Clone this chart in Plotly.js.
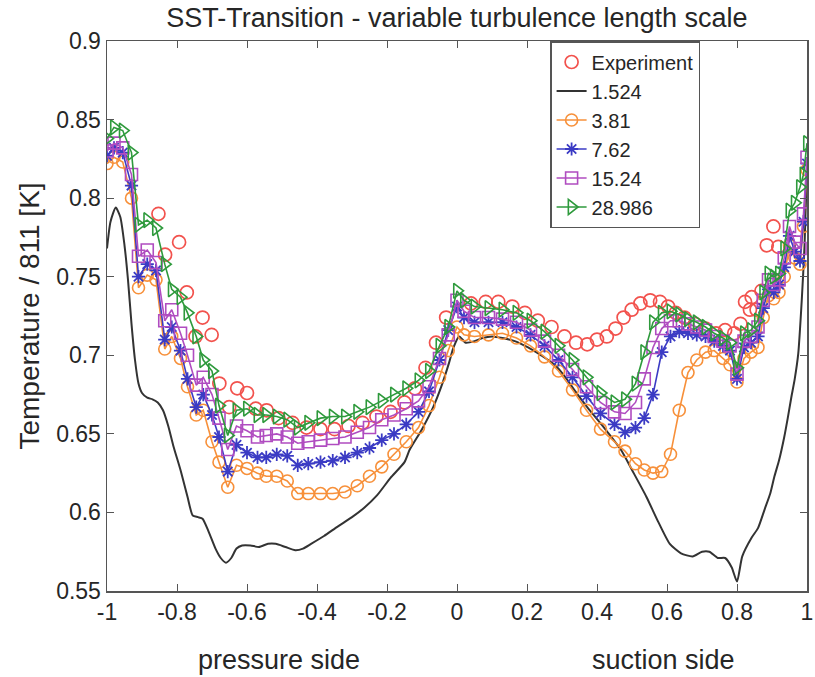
<!DOCTYPE html>
<html>
<head>
<meta charset="utf-8">
<script src="https://cdn.plot.ly/plotly-3.0.1.min.js"></script>
<style>html,body{margin:0;padding:0;background:#fff;}#chart{width:815px;height:677px;}</style>
</head>
<body>
<div id="chart"></div>
<script>
// ---- data ----
const expX = [-0.853,-0.834,-0.794,-0.772,-0.747,-0.727,-0.701,-0.679,-0.651,-0.628,-0.600,-0.575,-0.544,-0.510,-0.47,-0.43,-0.39,-0.35,-0.31,-0.27,-0.23,-0.19,-0.15,-0.12,-0.09,-0.06,-0.031,0.04,0.082,0.118,0.158,0.194,0.231,0.27,0.307,0.34,0.372,0.40,0.428,0.453,0.476,0.499,0.524,0.552,0.580,0.603,0.625,0.65,0.68,0.71,0.74,0.766,0.792,0.81,0.823,0.837,0.842,0.856,0.870,0.885,0.904,0.918];
const expY = [0.790,0.764,0.772,0.740,0.712,0.724,0.713,0.682,0.667,0.679,0.676,0.666,0.665,0.660,0.657,0.654,0.653,0.653,0.655,0.657,0.661,0.664,0.670,0.679,0.692,0.708,0.724,0.733,0.734,0.734,0.731,0.727,0.722,0.718,0.712,0.708,0.707,0.710,0.712,0.717,0.724,0.729,0.733,0.735,0.734,0.731,0.727,0.724,0.720,0.717,0.714,0.716,0.714,0.720,0.734,0.729,0.737,0.729,0.741,0.770,0.782,0.769];

const blackX = [-1.0,-0.99,-0.975,-0.962,-0.95,-0.94,-0.93,-0.92,-0.91,-0.9,-0.885,-0.87,-0.855,-0.84,-0.825,-0.81,-0.79,-0.77,-0.755,-0.74,-0.727,-0.71,-0.69,-0.675,-0.66,-0.645,-0.63,-0.614,-0.59,-0.566,-0.54,-0.518,-0.49,-0.462,-0.44,-0.417,-0.38,-0.341,-0.30,-0.265,-0.228,-0.19,-0.15,-0.135,-0.10,-0.068,-0.045,-0.023,-0.01,0.006,0.025,0.05,0.073,0.10,0.13,0.165,0.203,0.24,0.279,0.31,0.335,0.372,0.42,0.468,0.50,0.541,0.575,0.608,0.64,0.673,0.70,0.721,0.745,0.766,0.785,0.80,0.815,0.842,0.86,0.879,0.895,0.907,0.92,0.935,0.945,0.955,0.965,0.975,0.985,0.993,1.0];
const blackY = [0.768,0.785,0.794,0.788,0.770,0.748,0.720,0.697,0.682,0.676,0.673,0.672,0.670,0.665,0.655,0.642,0.627,0.610,0.598,0.597,0.596,0.588,0.577,0.571,0.568,0.571,0.577,0.579,0.579,0.578,0.580,0.580,0.578,0.576,0.577,0.580,0.585,0.591,0.597,0.603,0.611,0.622,0.632,0.640,0.653,0.667,0.680,0.695,0.705,0.712,0.708,0.709,0.711,0.712,0.711,0.709,0.705,0.700,0.694,0.686,0.678,0.667,0.654,0.640,0.627,0.610,0.594,0.580,0.574,0.572,0.575,0.575,0.571,0.571,0.565,0.556,0.572,0.584,0.590,0.602,0.612,0.623,0.633,0.648,0.660,0.673,0.685,0.701,0.735,0.770,0.820];

const cfdX = [-1.0,-0.98,-0.955,-0.93,-0.91,-0.885,-0.86,-0.835,-0.815,-0.79,-0.77,-0.745,-0.725,-0.70,-0.68,-0.655,-0.63,-0.60,-0.57,-0.545,-0.515,-0.485,-0.455,-0.425,-0.39,-0.355,-0.32,-0.285,-0.25,-0.215,-0.18,-0.145,-0.11,-0.08,-0.05,-0.025,0.0,0.02,0.05,0.09,0.13,0.17,0.21,0.25,0.29,0.33,0.37,0.41,0.45,0.48,0.51,0.535,0.56,0.585,0.61,0.635,0.66,0.685,0.71,0.735,0.76,0.78,0.80,0.82,0.84,0.86,0.875,0.89,0.905,0.92,0.935,0.95,0.965,0.98,0.99,1.0];
const y381 = [0.822,0.826,0.823,0.800,0.743,0.751,0.748,0.704,0.712,0.698,0.680,0.662,0.665,0.645,0.632,0.616,0.630,0.628,0.625,0.623,0.623,0.620,0.612,0.612,0.612,0.612,0.613,0.617,0.623,0.629,0.637,0.645,0.654,0.668,0.686,0.703,0.718,0.713,0.712,0.713,0.714,0.711,0.706,0.699,0.690,0.678,0.665,0.653,0.645,0.639,0.631,0.627,0.625,0.626,0.637,0.665,0.689,0.697,0.702,0.703,0.698,0.694,0.683,0.698,0.702,0.705,0.724,0.738,0.736,0.740,0.750,0.770,0.762,0.758,0.782,0.818];
const y762 = [0.827,0.832,0.829,0.808,0.750,0.758,0.754,0.710,0.718,0.703,0.685,0.667,0.675,0.662,0.648,0.626,0.643,0.638,0.635,0.635,0.637,0.636,0.630,0.631,0.632,0.633,0.635,0.638,0.641,0.646,0.650,0.656,0.664,0.677,0.697,0.716,0.731,0.724,0.721,0.721,0.721,0.718,0.713,0.706,0.697,0.686,0.674,0.663,0.656,0.651,0.654,0.660,0.675,0.702,0.712,0.715,0.714,0.713,0.712,0.709,0.706,0.703,0.685,0.705,0.708,0.712,0.730,0.742,0.740,0.745,0.756,0.776,0.766,0.760,0.785,0.822];
const y1524 = [0.830,0.835,0.832,0.815,0.763,0.767,0.759,0.722,0.729,0.714,0.700,0.681,0.686,0.675,0.660,0.640,0.655,0.652,0.648,0.649,0.650,0.648,0.644,0.645,0.646,0.647,0.648,0.651,0.654,0.659,0.662,0.666,0.671,0.680,0.698,0.713,0.735,0.728,0.724,0.724,0.723,0.721,0.716,0.709,0.700,0.691,0.680,0.670,0.664,0.663,0.670,0.685,0.705,0.717,0.722,0.722,0.720,0.718,0.716,0.712,0.709,0.706,0.688,0.709,0.712,0.718,0.735,0.748,0.745,0.748,0.762,0.782,0.772,0.768,0.790,0.826];
const y28986 = [0.838,0.845,0.843,0.829,0.783,0.786,0.781,0.758,0.742,0.737,0.727,0.712,0.697,0.690,0.668,0.649,0.665,0.666,0.662,0.662,0.661,0.659,0.654,0.657,0.660,0.661,0.661,0.664,0.667,0.671,0.675,0.679,0.684,0.690,0.706,0.718,0.741,0.735,0.731,0.730,0.729,0.727,0.722,0.715,0.706,0.697,0.686,0.676,0.670,0.672,0.682,0.702,0.721,0.727,0.728,0.726,0.723,0.721,0.718,0.714,0.711,0.708,0.692,0.714,0.716,0.722,0.740,0.752,0.750,0.752,0.768,0.792,0.797,0.807,0.815,0.835];

const xTickVals = [-1,-0.8,-0.6,-0.4,-0.2,0,0.2,0.4,0.6,0.8,1];
const xTickText = ['-1','-0.8','-0.6','-0.4','-0.2','0','0.2','0.4','0.6','0.8','1'];
const yTickVals = [0.55,0.6,0.65,0.7,0.75,0.8,0.85,0.9];
const yTickText = ['0.55','0.6','0.65','0.7','0.75','0.8','0.85','0.9'];

// ---- traces ----
const traces = [
  {x: expX, y: expY, name: 'Experiment', type: 'scatter', mode: 'markers',
   marker: {symbol: 'circle-open', size: 13, color: '#f2524d', line: {width: 1.7}}},
  {x: blackX, y: blackY, name: '1.524', type: 'scatter', mode: 'lines', line: {color: '#333333', width: 2, shape: 'spline', smoothing: 0.6}},
  {x: cfdX, y: y381, name: '3.81', type: 'scatter', mode: 'lines+markers', line: {color: '#f7903a', width: 1.6},
   marker: {symbol: 'circle-open', size: 12, color: '#f7903a', line: {width: 1.6}}},
  {x: cfdX, y: y762, name: '7.62', type: 'scatter', mode: 'lines+markers', line: {color: '#3b3bc4', width: 1.6},
   marker: {symbol: 'asterisk-open', size: 11, color: '#3b3bc4', line: {width: 1.8, color: '#3b3bc4'}}},
  {x: cfdX, y: y1524, name: '15.24', type: 'scatter', mode: 'lines+markers', line: {color: '#b04cc0', width: 1.6},
   marker: {symbol: 'square-open', size: 12, color: '#b04cc0', line: {width: 1.6}}},
  {x: cfdX, y: y28986, name: '28.986', type: 'scatter', mode: 'lines+markers', line: {color: '#2e9a3c', width: 1.6},
   marker: {symbol: 'triangle-right-open', size: 13, color: '#2e9a3c', line: {width: 1.6}}}
];

const FONT = 'Liberation Sans, Arial, sans-serif';
const TXT = '#262626';
const layout = {
  width: 815, height: 677,
  margin: {l: 107, r: 8, t: 41, b: 86},
  paper_bgcolor: '#ffffff', plot_bgcolor: '#ffffff',
  font: {family: FONT, color: TXT, size: 20},
  title: {text: 'SST-Transition - variable turbulence length scale', font: {family: FONT, size: 27, color: TXT},
          x: 0.5, xref: 'paper', xanchor: 'center', y: 0.974, yref: 'container', yanchor: 'middle'},
  showlegend: true,
  legend: {x: 0.633, y: 1.0, xanchor: 'left', yanchor: 'top', bgcolor: '#ffffff', bordercolor: '#555555', borderwidth: 1.5,
           font: {family: FONT, size: 20, color: TXT}, tracegroupgap: 0},
  xaxis: {range: [-1, 1], tickvals: xTickVals, ticktext: xTickText, ticks: 'inside', ticklen: 7, tickcolor: '#555555',
          showline: true, linecolor: '#555555', linewidth: 1.5, mirror: 'ticks', showgrid: false, zeroline: false,
          ticklabeloverflow: 'allow', tickfont: {family: FONT, size: 23, color: TXT}},
  yaxis: {range: [0.55, 0.9], tickvals: yTickVals, ticktext: yTickText, ticks: 'inside', ticklen: 7, tickcolor: '#555555',
          showline: true, linecolor: '#555555', linewidth: 1.5, mirror: 'ticks', showgrid: false, zeroline: false,
          ticklabeloverflow: 'allow', tickfont: {family: FONT, size: 23, color: TXT},
          title: {text: 'Temperature / 811 [K]', font: {family: FONT, size: 28, color: TXT}, standoff: 8}},
  annotations: [
    {text: 'pressure side', xref: 'x', yref: 'paper', x: -0.51, y: -0.125, showarrow: false, xanchor: 'center', yanchor: 'middle',
     font: {family: FONT, size: 27, color: TXT}},
    {text: 'suction side', xref: 'x', yref: 'paper', x: 0.59, y: -0.125, showarrow: false, xanchor: 'center', yanchor: 'middle',
     font: {family: FONT, size: 27, color: TXT}}
  ]
};

Plotly.newPlot('chart', traces, layout, {displayModeBar: false, staticPlot: true});
</script>
</body>
</html>
